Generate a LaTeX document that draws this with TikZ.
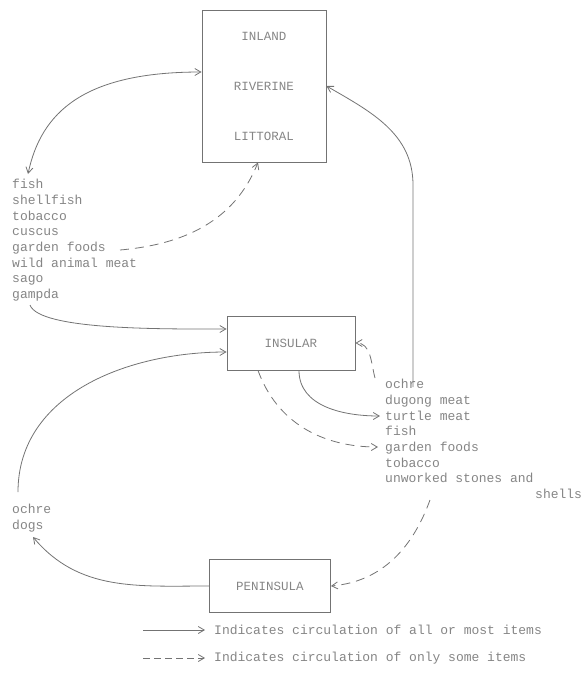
\documentclass[tikz,border=0pt]{standalone}
\usepackage{fontspec}
\newfontfamily\typed{Liberation Mono}
\usepackage{tikz}
\usetikzlibrary{arrows.meta}
\usetikzlibrary{positioning}
\definecolor{pencil}{gray}{0.45}
\definecolor{faded}{gray}{0.52}
\tikzset{region/.style={draw=pencil, line width=0.9pt, inner sep=0pt, text=faded, font=\typed\fontsize{12.5}{15.7}\selectfont}}
\tikzset{items/.style={align=left, inner sep=0pt, text=faded, font=\typed\fontsize{13}{15.7}\selectfont}}
\tikzset{all/.style={draw=pencil, line width=0.8pt, ->}}
\tikzset{some/.style={all, dash pattern=on 9pt off 6pt}}

\begin{document}
\begin{tikzpicture}[x=1pt, y=-1pt, >={Straight Barb[length=6pt,width=7pt]}]
	\useasboundingbox (0,0) rectangle (586,678);
	% the three regions
	\node[region, minimum width=124pt, minimum height=152pt, align=center, font=\typed\fontsize{12.5}{50}\selectfont] (ilr) at (264,86) {INLAND\\RIVERINE\\LITTORAL};
	\node[region, minimum width=128pt, minimum height=54pt] (insular) at (291,343) {INSULAR};
	\node[region, minimum width=121pt, minimum height=53pt] (peninsula) at (270,586) {PENINSULA};
	
	% goods
	\node[items, anchor=north west] (westlist) at (12,179) {fish\\shellfish\\tobacco\\cuscus\\garden foods\\wild animal meat\\sago\\gampda};
	\node[items, anchor=north west] (eastlist) at (385,379) {ochre\\dugong meat\\turtle meat\\fish\\garden foods\\tobacco\\unworked stones and\\\hspace*{150pt}shells};
	\node[items, anchor=north west] (dogslist) at (12,504) {ochre\\dogs};
	
	\coordinate (fishin) at (28,174);
	\coordinate (gampdaout) at (30,305);
	\coordinate (gardenout) at (120,250);
	\coordinate (turtlein) at (380,416);
	\coordinate (gardenin) at (378,447);
	\coordinate (ochreout) at (375,378);
	\coordinate (ochreup) at (413,387);
	\coordinate (bend) at (413,185);
	\coordinate (shellsout) at (430,500);
	\coordinate (dogsout) at (18,492);
	\coordinate (dogsin) at (33,537);
	
	% circulation
	\draw[all, <->] ([yshift=14pt]ilr.west) to[out=180, in=78, out looseness=1.5, in looseness=0.8] (fishin);
	\draw[some] (gardenout) to[out=5, in=-112] ([xshift=-6pt]ilr.south);
	\draw[all] (gampdaout) to[out=-70, in=180, out looseness=0.35, in looseness=0.8] ([yshift=14pt]insular.west);
	\draw[all] (dogsout) to[out=90, in=180] ([yshift=-9pt]insular.west);
	\draw[all] ([xshift=8pt]insular.south) to[out=-90, in=180] (turtlein);
	\draw[some] ([xshift=-33pt]insular.south) to[out=-70, in=180] (gardenin);
	\draw[some] (ochreout) to[out=105, in=0] (insular.east);
	\draw[all] (ochreup) -- (bend) to[out=90, in=-30] (ilr.east);
	\draw[some] (shellsout) to[out=-110, in=5] (peninsula.east);
	\draw[all] (peninsula.west) to[out=180, in=-50] (dogsin);
	
	% key
	\coordinate (allfrom) at (143,630);
	\coordinate (allto) at (205,630);
	\coordinate (somefrom) at (143,658);
	\coordinate (someto) at (205,658);
	\draw[all] (allfrom) -- (allto);
	\draw[some, dash pattern=on 7pt off 4pt] (somefrom) -- (someto);
	\node[items, right=9pt of allto] (allkey) {Indicates circulation of all or most items};
	\node[items, right=9pt of someto] (somekey) {Indicates circulation of only some items};
\end{tikzpicture}
\end{document}
